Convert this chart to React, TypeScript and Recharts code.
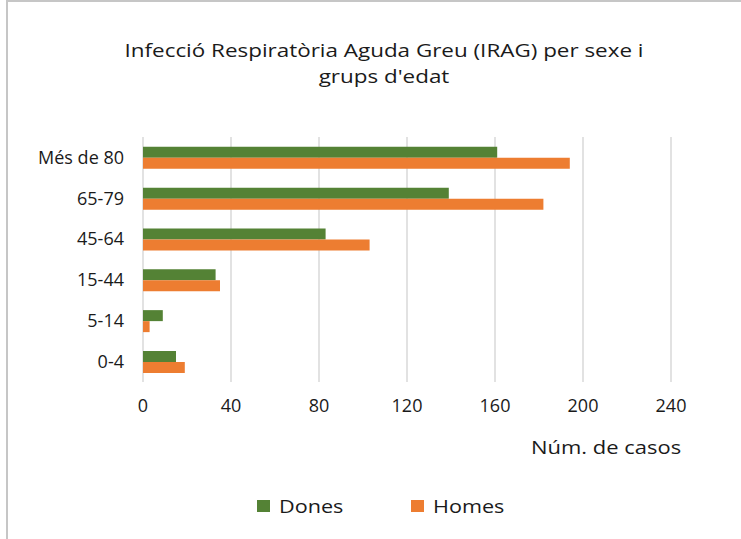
import React from "react";
import {
  BarChart,
  Bar,
  XAxis,
  YAxis,
  CartesianGrid,
  Legend,
} from "recharts";

const groups = ["Més de 80", "65-79", "45-64", "15-44", "5-14", "0-4"];
const dones = [161, 139, 83, 33, 9, 15];
const homes = [194, 182, 103, 35, 3, 19];
const xTicks = [0, 40, 80, 120, 160, 200, 240];

const seriesNames = ["Dones", "Homes"];
const seriesColors = ["#548235", "#ED7D31"];

const data = groups.map((g, i) => ({ grup: g, Dones: dones[i], Homes: homes[i] }));

const FONT = "'Open Sans', 'Noto Sans', sans-serif";
const TEXT = "#1a1a1a";

// legend item x offsets (square left edge)
const legendX = [257, 411];

const LegendContent = () => (
  <div style={{ position: "relative", height: 24, fontFamily: FONT }}>
    {seriesNames.map((n, i) => (
      <div key={n} style={{ position: "absolute", left: legendX[i], top: 0, display: "flex", alignItems: "center", height: 24 }}>
        <span style={{ width: 13, height: 12, background: seriesColors[i], display: "inline-block", marginRight: 9 }} />
        <span
          style={{
            fontSize: 18,
            color: TEXT,
            display: "inline-block",
            transform: "scaleX(1.2)",
            transformOrigin: "left center",
            whiteSpace: "nowrap",
          }}
        >
          {n}
        </span>
      </div>
    ))}
  </div>
);

export default function App() {
  return (
    <div
      style={{
        position: "absolute",
        left: 6,
        top: 0,
        width: 735,
        height: 539,
        borderTop: "2px solid #c6c6c6",
        borderLeft: "2px solid #c6c6c6",
        boxSizing: "border-box",
        background: "#fff",
        overflow: "hidden",
      }}
    >
      <div
        style={{
          position: "absolute",
          left: -14,
          top: 35,
          width: 780,
          textAlign: "center",
          fontFamily: FONT,
          fontSize: 19,
          lineHeight: "26px",
          color: TEXT,
          whiteSpace: "nowrap",
          transform: "scaleX(1.18)",
          transformOrigin: "50% 50%",
        }}
      >
        Infecció Respiratòria Aguda Greu (IRAG) per sexe i
        <br />
        grups d'edat
      </div>
      <div
        style={{
          position: "absolute",
          left: 523,
          top: 433,
          fontFamily: FONT,
          fontSize: 18,
          color: TEXT,
          whiteSpace: "nowrap",
          transform: "scaleX(1.22)",
          transformOrigin: "left center",
        }}
      >
        Núm. de casos
      </div>
      <div style={{ position: "absolute", left: -8, top: -2 }}>
        <BarChart
          width={741}
          height={539}
          data={data}
          layout="vertical"
          barCategoryGap="24%"
          barGap={0}
          margin={{ top: 137, right: 70, bottom: 127, left: 0 }}
        >
          <CartesianGrid horizontal={false} stroke="#d9d9d9" strokeWidth={1.5} />
          <XAxis
            type="number"
            domain={[0, 240]}
            ticks={xTicks}
            axisLine={false}
            tickLine={false}
            tickSize={0}
            tickMargin={17}
            height={30}
            tick={{ fontFamily: FONT, fontSize: 18, fill: TEXT }}
          />
          <YAxis
            type="category"
            dataKey="grup"
            width={143}
            axisLine={false}
            tickLine={false}
            tickSize={0}
            tickMargin={19}
            tick={{ fontFamily: FONT, fontSize: 18, fill: TEXT }}
          />
          <Legend
            layout="horizontal"
            verticalAlign="middle"
            align="center"
            wrapperStyle={{ top: 494, left: 0, width: 741 }}
            content={LegendContent}
          />
          <Bar dataKey="Dones" fill={seriesColors[0]} isAnimationActive={false} />
          <Bar dataKey="Homes" fill={seriesColors[1]} isAnimationActive={false} />
        </BarChart>
      </div>
    </div>
  );
}
